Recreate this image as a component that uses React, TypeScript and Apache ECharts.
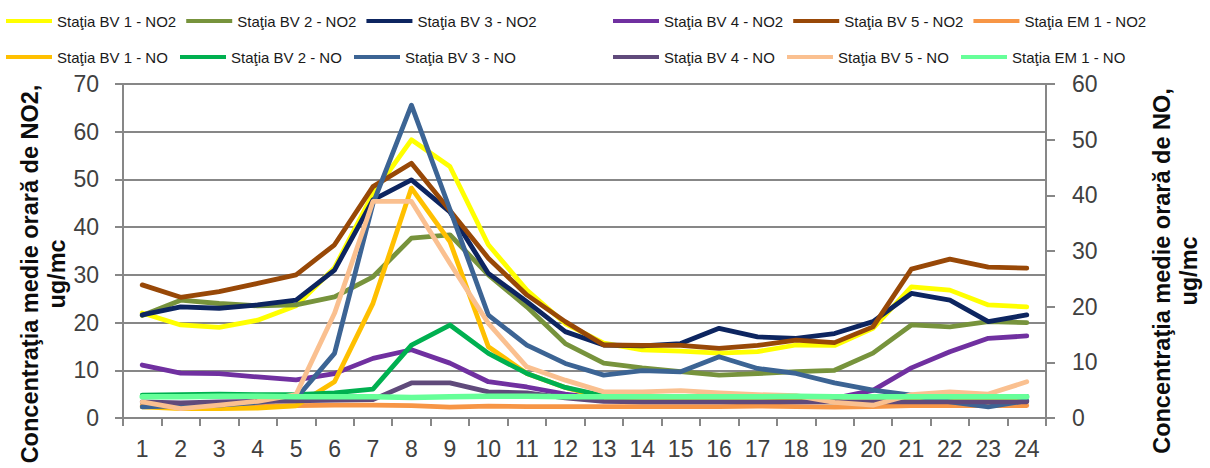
import React, { useEffect, useRef } from "react";
import * as echarts from "echarts";

const hours = ["1","2","3","4","5","6","7","8","9","10","11","12","13","14","15","16","17","18","19","20","21","22","23","24"];
const leftTicks = [0, 70, 10];
const rightTicks = [0, 60, 10];

const bv1NO2 = [22, 19.5, 19, 20.5, 23.5, 31.5, 47, 58.3, 52.7, 36.3, 26.8, 19.8, 15.7, 14.3, 14, 13.6, 13.9, 15.3, 15.2, 18.8, 27.5, 26.8, 23.7, 23.3];
const bv2NO2 = [21.5, 24.7, 24, 23.5, 23.7, 25.4, 29.6, 37.7, 38.4, 30, 23.3, 15.6, 11.5, 10.5, 9.7, 9, 9.3, 9.7, 10, 13.6, 19.5, 19.1, 20.2, 20];
const bv3NO2 = [21.6, 23.3, 23, 23.7, 24.7, 31, 45.7, 49.9, 43.2, 30.3, 24.4, 18.1, 15.3, 15.1, 15.6, 18.8, 17, 16.7, 17.7, 20.2, 26.1, 24.7, 20.2, 21.6];
const bv4NO2 = [11.1, 9.4, 9.3, 8.6, 8, 9.3, 12.5, 14.3, 11.5, 7.6, 6.5, 5, 4, 3.9, 3.9, 3.9, 3.9, 3.9, 4.1, 5.8, 10.5, 13.9, 16.7, 17.2];
const bv5NO2 = [27.9, 25.3, 26.5, 28.2, 30, 36.3, 48.5, 53.4, 43.5, 33.5, 25.8, 20.2, 15.3, 15.2, 15.2, 14.6, 15.2, 16.3, 15.8, 19.1, 31.2, 33.3, 31.6, 31.4];
const em1NO2 = [2.6, 2.5, 2.5, 2.5, 2.6, 2.7, 2.7, 2.6, 2.3, 2.5, 2.4, 2.4, 2.4, 2.4, 2.4, 2.4, 2.5, 2.4, 2.3, 2.4, 2.6, 2.6, 2.6, 2.6];

const bv1NO = [2.0, 1.7, 1.7, 1.8, 2.2, 6.5, 20.6, 41.3, 31.7, 12.8, 8.0, 5.5, 3.6, 3.2, 3.0, 3.0, 3.0, 3.0, 2.9, 2.9, 3.0, 3.0, 3.0, 3.0];
const bv2NO = [4.1, 4.2, 4.3, 4.2, 4.2, 4.5, 5.2, 13.1, 16.7, 11.6, 8.0, 5.5, 4.0, 3.9, 3.9, 3.9, 3.9, 3.9, 3.9, 3.9, 3.9, 3.9, 3.9, 3.9];
const bv3NO = [2.0, 2.2, 2.3, 2.8, 3.5, 11.6, 38.5, 56.2, 37.5, 18.5, 13.1, 9.8, 7.7, 8.5, 8.3, 11.0, 8.9, 8.0, 6.3, 5.0, 4.1, 2.9, 2.0, 3.1];
const bv4NO = [2.9, 2.7, 2.9, 3.0, 3.1, 3.2, 3.3, 6.3, 6.3, 4.7, 4.5, 3.6, 3.0, 2.9, 2.9, 2.9, 2.9, 2.9, 2.9, 2.9, 2.9, 2.9, 2.9, 2.9];
const bv5NO = [2.9, 1.7, 2.3, 3.0, 4.2, 18.8, 38.9, 38.9, 27.8, 17.0, 9.2, 6.8, 4.7, 4.7, 4.9, 4.5, 4.2, 4.0, 2.8, 2.3, 4.2, 4.7, 4.3, 6.5];
const em1NO = [3.8, 3.8, 3.9, 3.9, 3.8, 3.8, 3.8, 3.7, 3.8, 3.9, 3.9, 3.8, 3.8, 3.8, 3.8, 3.8, 3.8, 3.9, 3.8, 3.8, 3.8, 3.8, 3.8, 3.8];

const seriesNames = [
  "Staţia BV 1 - NO2", "Staţia BV 2 - NO2", "Staţia BV 3 - NO2", "Staţia BV 4 - NO2", "Staţia BV 5 - NO2", "Staţia EM 1 - NO2",
  "Staţia BV 1 - NO", "Staţia BV 2 - NO", "Staţia BV 3 - NO", "Staţia BV 4 - NO", "Staţia BV 5 - NO", "Staţia EM 1 - NO",
];
const seriesData = [bv1NO2, bv2NO2, bv3NO2, bv4NO2, bv5NO2, em1NO2, bv1NO, bv2NO, bv3NO, bv4NO, bv5NO, em1NO];
const seriesColors = ["#FFFF00", "#77933C", "#0D2560", "#7030A0", "#984807", "#F79646", "#FFC000", "#00B050", "#3C6494", "#604A7B", "#FAC090", "#66FF99"];

const leftTitle = "Concentraţia medie orară de NO2,\nug/mc";
const rightTitle = "Concentraţia medie orară de NO,\nug/mc";

export default function App() {
  const ref = useRef<HTMLDivElement>(null);
  useEffect(() => {
    if (!ref.current) return;
    const chart = echarts.init(ref.current, null, { renderer: "svg" });
    const grid = "#878787";
    const tickColor = "#404040";
    const legendBase = (data: string[], left: number, top: number) => ({
      data,
      left,
      top,
      orient: "horizontal",
      padding: 0,
      itemWidth: 46,
      itemHeight: 4,
      itemGap: 10,
      icon: "rect",
      textStyle: {
        fontFamily: "'Liberation Sans Narrow', 'Liberation Sans', Arial, sans-serif",
        fontSize: 15,
        color: "#1a1a1a",
        width: 113,
        lineHeight: 16,
      },
    });
    chart.setOption({
      animation: false,
      backgroundColor: "#ffffff",
      textStyle: { fontFamily: "'Liberation Sans', Arial, sans-serif" },
      legend: [
        legendBase(seriesNames.slice(0, 3), 6, 13),
        legendBase(seriesNames.slice(3, 6), 613, 13),
        legendBase(seriesNames.slice(6, 9), 6, 49),
        legendBase(seriesNames.slice(9, 12), 613, 49),
      ],
      grid: { left: 123, right: 164, top: 84, bottom: 50, containLabel: false },
      xAxis: {
        type: "category",
        data: hours,
        boundaryGap: true,
        axisLine: { show: true, lineStyle: { color: grid, width: 2 } },
        axisTick: { show: true, length: 8, lineStyle: { color: grid, width: 2 } },
        axisLabel: { fontSize: 23, color: tickColor, margin: 19, interval: 0 },
      },
      yAxis: [
        {
          type: "value",
          position: "left",
          min: leftTicks[0],
          max: leftTicks[1],
          interval: leftTicks[2],
          axisLine: { show: true, lineStyle: { color: grid, width: 2 } },
          axisTick: { show: true, length: 8, lineStyle: { color: grid, width: 2 } },
          axisLabel: { fontSize: 23, color: tickColor, margin: 24 },
          splitLine: { show: true, lineStyle: { color: grid, width: 2 } },
        },
        {
          type: "value",
          position: "right",
          min: rightTicks[0],
          max: rightTicks[1],
          interval: rightTicks[2],
          axisLine: { show: true, lineStyle: { color: grid, width: 2 } },
          axisTick: { show: true, length: 9, lineStyle: { color: grid, width: 2 } },
          axisLabel: { fontSize: 23, color: tickColor, margin: 26 },
          splitLine: { show: false },
        },
      ],
      series: seriesNames.map((name, i) => ({
        name,
        type: "line",
        yAxisIndex: i < 6 ? 0 : 1,
        data: seriesData[i],
        symbol: "none",
        color: seriesColors[i],
        lineStyle: { width: i === 11 ? 5.5 : 4.8, color: seriesColors[i], cap: "round", join: "round" },
        z: 2 + i * 0.01,
      })),
      graphic: [
        {
          type: "text",
          x: 43,
          y: 274,
          rotation: Math.PI / 2,
          style: {
            text: leftTitle,
            fontFamily: "'Liberation Sans', Arial, sans-serif",
            fontWeight: "bold",
            fontSize: 23.5,
            lineHeight: 27,
            fill: "#0d0d0d",
            align: "center",
            verticalAlign: "middle",
          },
        },
        {
          type: "text",
          x: 1175,
          y: 271,
          rotation: Math.PI / 2,
          style: {
            text: rightTitle,
            fontFamily: "'Liberation Sans', Arial, sans-serif",
            fontWeight: "bold",
            fontSize: 23.5,
            lineHeight: 27,
            fill: "#0d0d0d",
            align: "center",
            verticalAlign: "middle",
          },
        },
      ],
    });
    return () => chart.dispose();
  }, []);
  return (
    <div
      ref={ref}
      style={{ position: "fixed", left: 0, top: 0, width: 1210, height: 468, background: "#fff" }}
    />
  );
}
